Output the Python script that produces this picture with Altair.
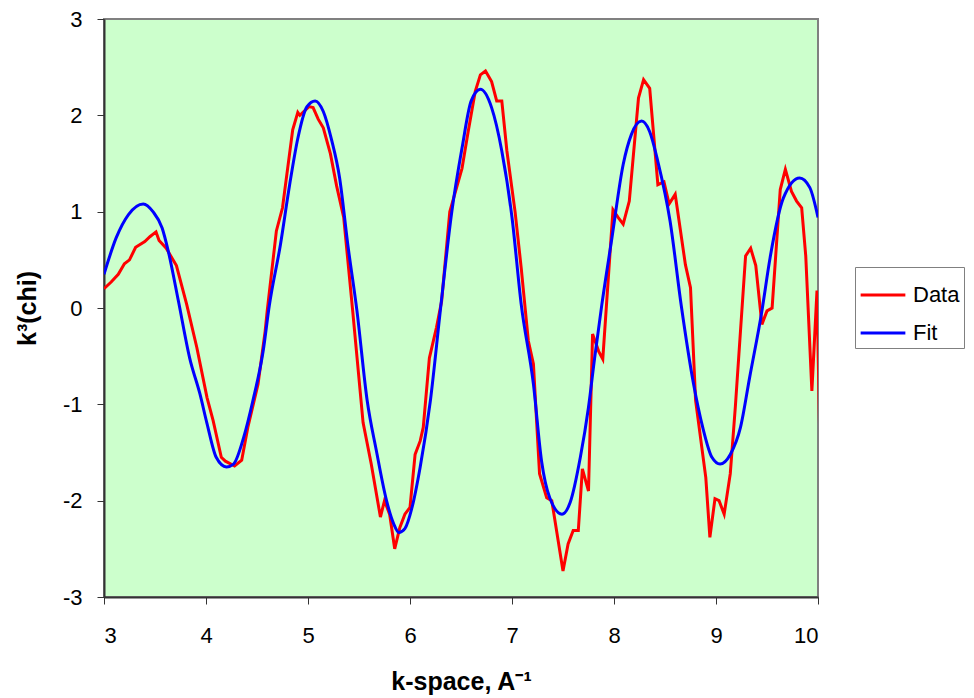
import altair as alt
import pandas as pd

# Measured data (red)
data_k = [3.0, 3.07, 3.14, 3.2, 3.25, 3.31, 3.4, 3.45, 3.51, 3.54, 3.61, 3.71, 3.81, 3.91,
          4.01, 4.07, 4.15, 4.19, 4.28, 4.35, 4.41, 4.51, 4.58, 4.6, 4.69, 4.75, 4.85, 4.9,
          4.92, 5.01, 5.05, 5.1, 5.15, 5.22, 5.28, 5.35, 5.44, 5.54, 5.62, 5.71, 5.75, 5.8,
          5.85, 5.9, 5.95, 6.0, 6.05, 6.1, 6.13, 6.19, 6.26, 6.31, 6.39, 6.51, 6.57, 6.64,
          6.69, 6.74, 6.8, 6.85, 6.9, 6.95, 7.03, 7.09, 7.16, 7.21, 7.27, 7.34, 7.39, 7.5,
          7.55, 7.6, 7.65, 7.69, 7.75, 7.79, 7.85, 7.89, 7.99, 8.04, 8.09, 8.15, 8.24, 8.29,
          8.35, 8.43, 8.49, 8.54, 8.6, 8.7, 8.75, 8.8, 8.9, 8.94, 8.99, 9.03, 9.08, 9.14,
          9.19, 9.29, 9.34, 9.39, 9.45, 9.5, 9.55, 9.63, 9.68, 9.74, 9.79, 9.84, 9.88, 9.94,
          9.99, 10.02]
data_chi = [0.2, 0.27, 0.35, 0.46, 0.5, 0.63, 0.69, 0.74, 0.79, 0.7, 0.62, 0.44, 0.04, -0.41,
            -0.93, -1.17, -1.55, -1.59, -1.64, -1.58, -1.24, -0.79, -0.24, -0.03, 0.8, 1.04, 1.85, 2.03,
            2.0, 2.09, 2.08, 1.96, 1.87, 1.6, 1.27, 0.94, -0.05, -1.19, -1.62, -2.17, -2.0, -2.14,
            -2.5, -2.28, -2.14, -2.07, -1.52, -1.38, -1.24, -0.52, -0.2, 0.07, 1.0, 1.45, 1.83, 2.25,
            2.42, 2.46, 2.35, 2.15, 2.15, 1.63, 1.0, 0.42, -0.34, -0.58, -1.72, -1.97, -2.0, -2.73,
            -2.45, -2.31, -2.31, -1.67, -1.9, -0.27, -0.45, -0.53, 1.02, 0.94, 0.87, 1.11, 2.18, 2.37,
            2.28, 1.28, 1.31, 1.08, 1.18, 0.45, 0.21, -0.96, -1.76, -2.38, -1.98, -2.0, -2.14, -1.72,
            -1.02, 0.54, 0.62, 0.44, -0.17, -0.03, 0.0, 1.23, 1.44, 1.21, 1.11, 1.04, 0.54, -0.86,
            0.18, -1.5]

# Fit (blue)
fit_k = [3.0, 3.12, 3.24, 3.385, 3.48, 3.57, 3.63, 3.73, 3.84, 3.94, 4.01, 4.1, 4.2, 4.27,
         4.37, 4.46, 4.56, 4.62, 4.73, 4.82, 4.9, 4.99, 5.07, 5.15, 5.23, 5.31, 5.39, 5.48,
         5.58, 5.67, 5.77, 5.84, 5.89, 5.95, 6.02, 6.1, 6.2, 6.3, 6.41, 6.51, 6.6, 6.69,
         6.8, 6.9, 7.0, 7.09, 7.21, 7.29, 7.37, 7.49, 7.57, 7.67, 7.75, 7.81, 7.88, 7.98,
         8.09, 8.17, 8.27, 8.35, 8.43, 8.55, 8.66, 8.78, 8.87, 8.96, 9.04, 9.14, 9.24, 9.33,
         9.45, 9.53, 9.66, 9.82, 9.92, 10.0]
fit_chi = [0.35, 0.73, 0.97, 1.08, 1.0, 0.83, 0.59, 0.07, -0.52, -0.89, -1.2, -1.55, -1.65, -1.62,
           -1.34, -0.96, -0.45, 0.02, 0.66, 1.28, 1.76, 2.09, 2.15, 2.04, 1.75, 1.35, 0.66, -0.03,
           -0.96, -1.48, -2.0, -2.24, -2.33, -2.29, -2.07, -1.65, -0.96, 0.0, 1.0, 1.66, 2.15, 2.27,
           2.08, 1.63, 0.94, 0.04, -0.79, -1.59, -1.97, -2.14, -2.02, -1.55, -1.03, -0.52, 0.03, 0.73,
           1.49, 1.8, 1.94, 1.83, 1.52, 0.9, 0.02, -0.79, -1.24, -1.55, -1.62, -1.52, -1.24, -0.72,
           -0.03, 0.52, 1.14, 1.35, 1.25, 0.94]

series_names = ["Data", "Fit"]
series_colors = ["#FF0000", "#0000FF"]

df = pd.concat([
    pd.DataFrame({"k": data_k, "chi": data_chi, "series": series_names[0], "order": range(len(data_k))}),
    pd.DataFrame({"k": fit_k, "chi": fit_chi, "series": series_names[1], "order": range(len(fit_k))}),
])

FONT = "Liberation Sans"

x_enc = alt.X("k:Q", scale=alt.Scale(domain=[3, 10], nice=False, zero=False),
              axis=alt.Axis(title="k-space, A⁻¹", values=[3, 4, 5, 6, 7, 8, 9, 10],
                            labelExpr="'' + datum.value"))
y_enc = alt.Y("chi:Q", scale=alt.Scale(domain=[-3, 3], nice=False, zero=False),
              axis=alt.Axis(title="k³(chi)", values=[-3, -2, -1, 0, 1, 2, 3],
                            labelExpr="'' + datum.value"))
color_enc = alt.Color("series:N", sort=series_names,
                      scale=alt.Scale(domain=series_names, range=series_colors),
                      legend=alt.Legend(title=None, orient="none", legendX=751, legendY=248,
                                        strokeColor="#808080", fillColor="white", padding=4,
                                        labelFontSize=22, labelFont=FONT, labelColor="black",
                                        symbolType="stroke", symbolSize=2000, symbolStrokeWidth=3,
                                        rowPadding=3, labelOffset=6))

base = alt.Chart(df)
data_line = base.transform_filter(alt.datum.series == "Data").mark_line(
    clip=True, strokeWidth=3, strokeJoin="miter").encode(
    x=x_enc, y=y_enc, color=color_enc, order="order:Q")
fit_line = base.transform_filter(alt.datum.series == "Fit").mark_line(
    clip=True, strokeWidth=3, interpolate="monotone").encode(
    x=x_enc, y=y_enc, color=color_enc, order="order:Q")

chart = alt.layer(data_line, fit_line).properties(
    width=714, height=578,
    autosize=alt.AutoSizeParams(type="none"),
    padding={"left": 96, "top": 11, "right": 148, "bottom": 100},
).configure_view(
    fill="#CCFFCC", stroke="#808080", strokeWidth=2,
).configure_axis(
    grid=False, domainColor="#333333", domainWidth=2, tickColor="#333333", tickSize=7,
    labelFont=FONT, labelFontSize=22, labelColor="black",
    titleFont=FONT, titleFontSize=25, titleFontWeight="bold", titleColor="black",
).configure_axisX(labelPadding=21, titlePadding=23).configure_axisY(labelPadding=15, titlePadding=22)

chart.save("out.html", embed_options={"renderer": "svg", "actions": False})
